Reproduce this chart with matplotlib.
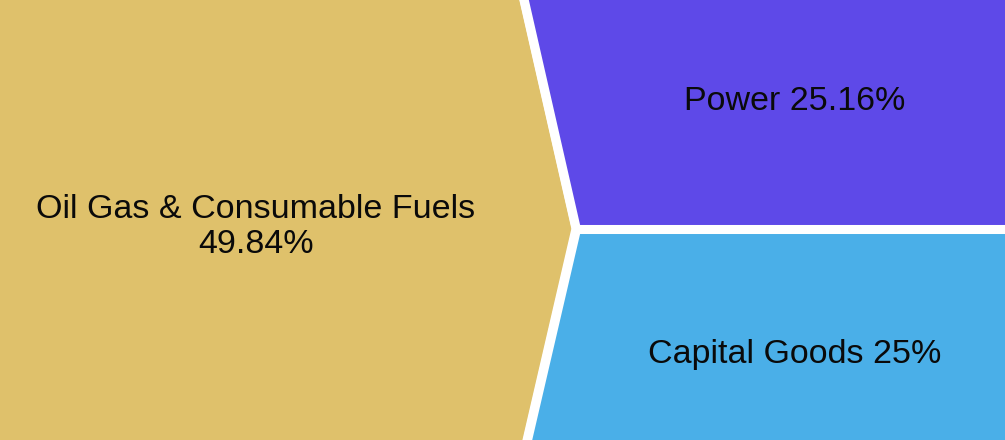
import matplotlib
matplotlib.use("Agg")
import matplotlib.pyplot as plt
from matplotlib.patches import Polygon

# data
sectors = ["Oil Gas & Consumable Fuels", "Power", "Capital Goods"]
shares = [49.84, 25.16, 25]
colors = ["#DFC16B", "#5E49E8", "#4AAFE8"]

W, H = 1005, 440
pad = 30  # push outer edges past the frame so the white stroke is only between cells

# layout of the chevron split (pixels, y from top)
top_x, tip_x, bot_x = 524, 576, 527
tip_y = H * shares[1] / (shares[1] + shares[2]) + 8

cells = [
    [(-pad, -pad), (top_x - pad * 0.23, -pad), (tip_x, tip_y), (bot_x - pad * 0.23, H + pad), (-pad, H + pad)],
    [(top_x - pad * 0.23, -pad), (W + pad, -pad), (W + pad, tip_y), (tip_x, tip_y)],
    [(tip_x, tip_y), (W + pad, tip_y), (W + pad, H + pad), (bot_x - pad * 0.23, H + pad)],
]

fig = plt.figure(figsize=(W / 100, H / 100), dpi=100)
ax = fig.add_axes([0, 0, 1, 1])
ax.set_xlim(0, W)
ax.set_ylim(H, 0)
ax.axis("off")

for pts, c in zip(cells, colors):
    ax.add_patch(Polygon(pts, closed=True, facecolor=c, edgecolor="white",
                         linewidth=6.5, joinstyle="round"))

fnt = dict(family=["Liberation Sans", "DejaVu Sans"], fontsize=24.5, color="#0a0a0a",
           ha="center", va="center")
ax.text(256, 227, "%s\n%s%%" % (sectors[0], shares[0]), linespacing=1.13, **fnt)
ax.text(795, 101, "%s %s%%" % (sectors[1], shares[1]), **fnt)
ax.text(795, 355, "%s %g%%" % (sectors[2], shares[2]), **fnt)

fig.savefig("out.png", dpi=100)
